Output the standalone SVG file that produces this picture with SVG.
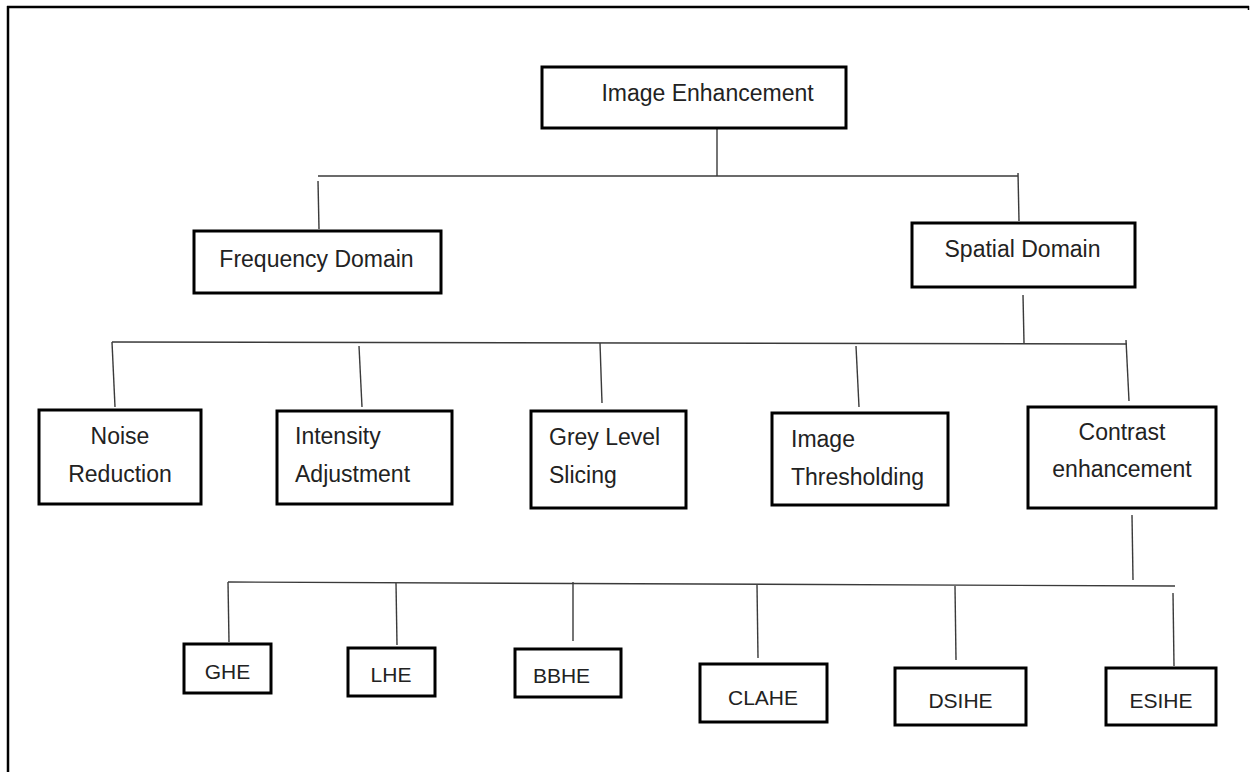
<svg xmlns="http://www.w3.org/2000/svg" width="1250" height="772" viewBox="0 0 1250 772">
<style>
.box{fill:#fff;stroke:#000;stroke-width:3}
.ln{stroke:#3a3a3a;stroke-width:1.4;fill:none}
.t{font-family:"Liberation Sans",Arial,sans-serif;font-size:23px;fill:#222}
.a{font-family:"Liberation Sans",Arial,sans-serif;font-size:21px;fill:#222}
.c{text-anchor:middle}
</style>
<rect width="1250" height="772" fill="#fff"/>
<g id="frame" stroke="#000" fill="none">
<path d="M7 7H1249" stroke-width="2.5"/>
<path d="M8 6V772" stroke-width="2.5"/>
<path d="M1248.5 6V10" stroke-width="1.5"/>
</g>
<g id="connectors">
<path class="ln" d="M717 128V176"/>
<path class="ln" d="M318 176H1018"/>
<path class="ln" d="M318 181L319 229"/>
<path class="ln" d="M1018 173L1019 221"/>
<path class="ln" d="M1023 295L1024 343"/>
<path class="ln" d="M112 342L1127 344"/>
<path class="ln" d="M112 342L115 407"/>
<path class="ln" d="M359 346L362 407"/>
<path class="ln" d="M600 343L602 403"/>
<path class="ln" d="M856 346L859 407"/>
<path class="ln" d="M1126 340L1129 401"/>
<path class="ln" d="M1132 515L1133 580"/>
<path class="ln" d="M228 582L1175 586"/>
<path class="ln" d="M228 582L229 642"/>
<path class="ln" d="M396 583L397 645"/>
<path class="ln" d="M573 582V641"/>
<path class="ln" d="M757 585L758 658"/>
<path class="ln" d="M955 586L956 660"/>
<path class="ln" d="M1173 593L1174 666"/>
</g>
<g id="image-enhancement"><rect class="box" x="542" y="67" width="304" height="61"/><text class="t c" x="707.5" y="101">Image Enhancement</text></g>
<g id="frequency-domain"><rect class="box" x="194" y="231" width="247" height="62"/><text class="t c" x="316.5" y="267">Frequency Domain</text></g>
<g id="spatial-domain"><rect class="box" x="912" y="223" width="223" height="64"/><text class="t c" x="1022.5" y="257">Spatial Domain</text></g>
<g id="noise-reduction"><rect class="box" x="39" y="410" width="162" height="94"/><text class="t c" x="120" y="444">Noise</text><text class="t c" x="120" y="482">Reduction</text></g>
<g id="intensity-adjustment"><rect class="box" x="277" y="411" width="175" height="93"/><text class="t" x="295" y="444">Intensity</text><text class="t" x="295" y="482">Adjustment</text></g>
<g id="grey-level-slicing"><rect class="box" x="531" y="411" width="155" height="97"/><text class="t" x="549" y="445">Grey Level</text><text class="t" x="549" y="483">Slicing</text></g>
<g id="image-thresholding"><rect class="box" x="772" y="413" width="176" height="92"/><text class="t" x="791" y="447">Image</text><text class="t" x="791" y="485">Thresholding</text></g>
<g id="contrast-enhancement"><rect class="box" x="1028" y="407" width="188" height="101"/><text class="t c" x="1122" y="440">Contrast</text><text class="t c" x="1122" y="477">enhancement</text></g>
<g id="ghe"><rect class="box" x="184" y="644" width="87" height="49"/><text class="a c" x="227.5" y="679">GHE</text></g>
<g id="lhe"><rect class="box" x="348" y="648" width="87" height="48"/><text class="a c" x="391" y="682">LHE</text></g>
<g id="bbhe"><rect class="box" x="515" y="649" width="106" height="48"/><text class="a c" x="561.5" y="683">BBHE</text></g>
<g id="clahe"><rect class="box" x="700" y="664" width="127" height="58"/><text class="a c" x="763" y="705">CLAHE</text></g>
<g id="dsihe"><rect class="box" x="895" y="668" width="131" height="57"/><text class="a c" x="960.5" y="708">DSIHE</text></g>
<g id="esihe"><rect class="box" x="1106" y="668" width="110" height="57"/><text class="a c" x="1161" y="708">ESIHE</text></g>
</svg>
